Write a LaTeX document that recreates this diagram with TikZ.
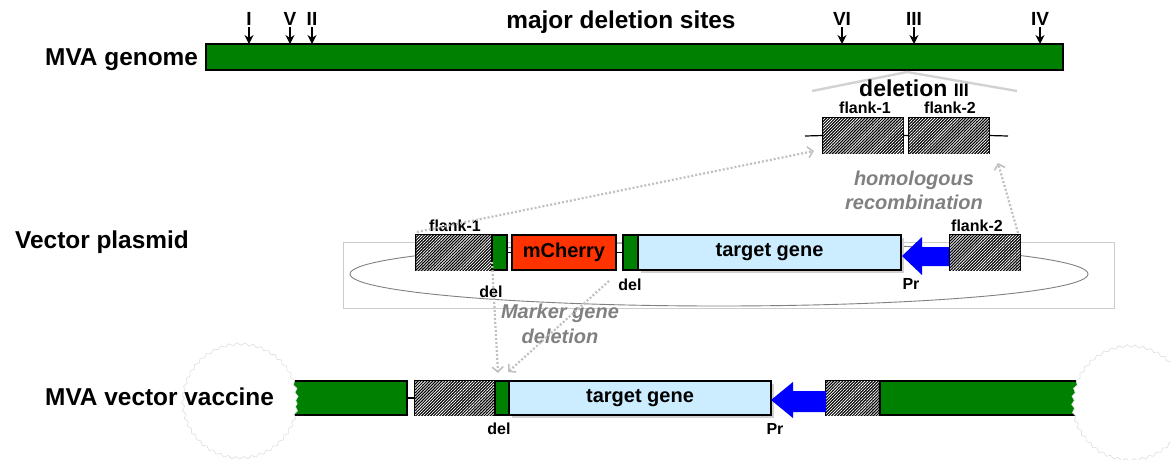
\documentclass[tikz,border=0pt]{standalone}
\usepackage{fontspec}
\setmainfont{Liberation Sans}
\usetikzlibrary{patterns.meta,arrows.meta,decorations.pathmorphing,shadows}
\definecolor{mgreen}{RGB}{0,128,0}
\definecolor{mred}{RGB}{255,51,0}
\definecolor{mblue}{RGB}{204,236,255}
\definecolor{tgray}{RGB}{128,128,128}
\definecolor{dgray}{RGB}{192,192,192}
\begin{document}
\begin{tikzpicture}[x=1pt,y=-1pt,
  box/.style={draw=black, line width=1.2pt, inner sep=0pt, outer sep=0pt, minimum height=35pt},
  hatch/.style={box, fill=black, postaction={pattern={Lines[angle=45,distance=2.1pt,line width=0.75pt]}, pattern color=white}},
  gbox/.style={box, fill=mgreen},
  big/.style={font=\bfseries\fontsize{24.4}{28}\selectfont, inner sep=0pt},
  mid/.style={font=\bfseries\fontsize{20}{24}\selectfont, inner sep=0pt},
  lab/.style={font=\bfseries\fontsize{16}{18}\selectfont, inner sep=0pt},
  num/.style={font=\bfseries\fontsize{19}{22}\selectfont, inner sep=0pt},
  note/.style={font=\bfseries\itshape\fontsize{20}{24}\selectfont, text=tgray, inner sep=0pt, align=center},
  site/.style={line width=1.4pt, -{Stealth[length=9pt,width=9pt]}},
  dotarr/.style={draw=dgray, line width=2.2pt, dash pattern=on 2pt off 2pt, -{Straight Barb[length=5pt,width=11pt,line width=1.6pt]}},
  cloud/.style={draw=gray!25, fill=white, line width=0.6pt, decorate, decoration={snake, segment length=8pt, amplitude=1.3pt}},
  shad/.style={drop shadow={shadow xshift=3pt, shadow yshift=-3pt, fill=black!18, opacity=1}}
]
\useasboundingbox (0,0) rectangle (1171,459);

% ---------------- MVA genome ----------------
\node[big, anchor=base west] (lgen) at (45,65) {MVA genome};
\node[box, fill=mgreen, minimum width=857pt, minimum height=26pt] (gen) at (634.5,57) {};
\node[big, anchor=base] (sites) at (621,28) {major deletion sites};
\foreach \n/\x in {I/249,V/290,II/312,VI/842,III/914,IV/1040}{
  \node[num, anchor=base] (s\n) at (\x,25) {\n};
  \coordinate (a\n) at (\x,27);
  \draw[site] (a\n) -- (a\n |- gen.north);
}

% deletion III detail
\coordinate (tl) at (812,91);
\coordinate (ta) at (907,72);
\coordinate (tr) at (1017,91);
\draw[gray!35, line width=2.4pt] (tl) -- (ta) -- (tr);
\node[font=\bfseries\fontsize{23}{26}\selectfont, inner sep=0pt, anchor=base] (del3) at (914,96) {deletion {\fontsize{18}{20}\selectfont III}};
\coordinate (gl) at (805,136);
\coordinate (gr) at (1008,136);
\node[hatch, minimum width=80pt] (gf1) at (863,135.5) {};
\node[hatch, minimum width=80pt] (gf2) at (949,135.5) {};
\draw[line width=1.2pt] (gl) -- (gf1.west) (gf1.east) -- (gf2.west) (gf2.east) -- (gr);
\node[lab, anchor=base] (lgf1) at (865,113) {flank-1};
\node[lab, anchor=base] (lgf2) at (950,113) {flank-2};

% ---------------- Vector plasmid ----------------
\node[big, anchor=base west] (lpl) at (15,248) {Vector plasmid};
\node[draw=gray!40, line width=0.8pt, minimum width=771pt, minimum height=66pt, inner sep=0pt] (plframe) at (728.5,275) {};
\draw[tgray, line width=0.9pt] (719,274) ellipse [x radius=369pt, y radius=32pt];

\node[hatch, minimum width=76pt] (pf1) at (454,252.5) {};
\node[gbox, minimum width=15pt] (pd1) at (499.5,252.5) {};
\node[box, fill=mred, minimum width=104pt, mid] (mch) at (564,252.5) {mCherry};
\node[gbox, minimum width=15pt] (pd2) at (630.5,252.5) {};
\node[box, fill=mblue, minimum width=263pt, mid, shad] (ptg) at (769.5,252.5) {target gene};
\node[hatch, minimum width=70pt] (pf2) at (985,252.5) {};
\draw[line width=1.2pt] (pd1.east) -- (mch.west) (mch.east) -- (pd2.west);
\fill[blue] (902,256) -- (922,237) -- (922,247) -- (949,247) -- (949,266) -- (922,266) -- (922,275) -- cycle;

\node[lab, anchor=base] (lpf1) at (455,231) {flank-1};
\node[lab, anchor=base] (lpf2) at (977,231) {flank-2};
\node[lab, anchor=base] (lpd1) at (491,297) {del};
\node[lab, anchor=base] (lpd2) at (630,290) {del};
\node[lab, anchor=base] (lpr) at (911,289) {Pr};

% homologous recombination
\node[note, anchor=base] (hom) at (914,185) {homologous};
\node[note, anchor=base] (rec) at (914,209) {recombination};
\draw[dotarr] ([shift={(1,-3)}]pf1.north west) -- ([shift={(-9,-2)}]gf1.south west);
\draw[dotarr] ([shift={(-2,-2)}]pf2.north east) -- ([shift={(9,10)}]gf2.south east);

% ---------------- MVA vector vaccine ----------------
\node[gbox, minimum height=34pt, minimum width=122pt] (bl) at (346,398) {};
\node[hatch, minimum height=34pt, minimum width=80pt] (bf1) at (455,398) {};
\node[gbox, minimum height=34pt, minimum width=14pt] (bd1) at (502,398) {};
\node[box, fill=mblue, minimum height=34pt, minimum width=262pt, mid, shad] (btg) at (640,398) {target gene};
\node[hatch, minimum height=34pt, minimum width=54pt] (bf2) at (853,398) {};
\node[gbox, minimum height=34pt, minimum width=210pt] (br) at (985,398) {};
\draw[line width=1.2pt] (bl.east) -- (bf1.west);
\fill[blue] (771,400) -- (793,382) -- (793,391) -- (826,391) -- (826,412) -- (793,412) -- (793,418) -- cycle;
\draw[cloud] (240,403) circle [radius=57pt];
\draw[cloud] (1130,405) circle [radius=57pt];
\node[big, anchor=base west] (lvac) at (45,405) {MVA vector vaccine};

\node[lab, anchor=base] (lbd1) at (499,434) {del};
\node[lab, anchor=base] (lbpr) at (775,434) {Pr};

% marker gene deletion
\node[note, anchor=base] (mk) at (560,318) {Marker gene};
\node[note, anchor=base] (mkd) at (560,343) {deletion};
\coordinate (m2) at (609,281);
\draw[dotarr] ([shift={(0,-8)}]pd1.south west) -- ([shift={(3,-8)}]bd1.north west);
\draw[dotarr] (m2) -- ([shift={(13,-9)}]bd1.north west);
\end{tikzpicture}
\end{document}
